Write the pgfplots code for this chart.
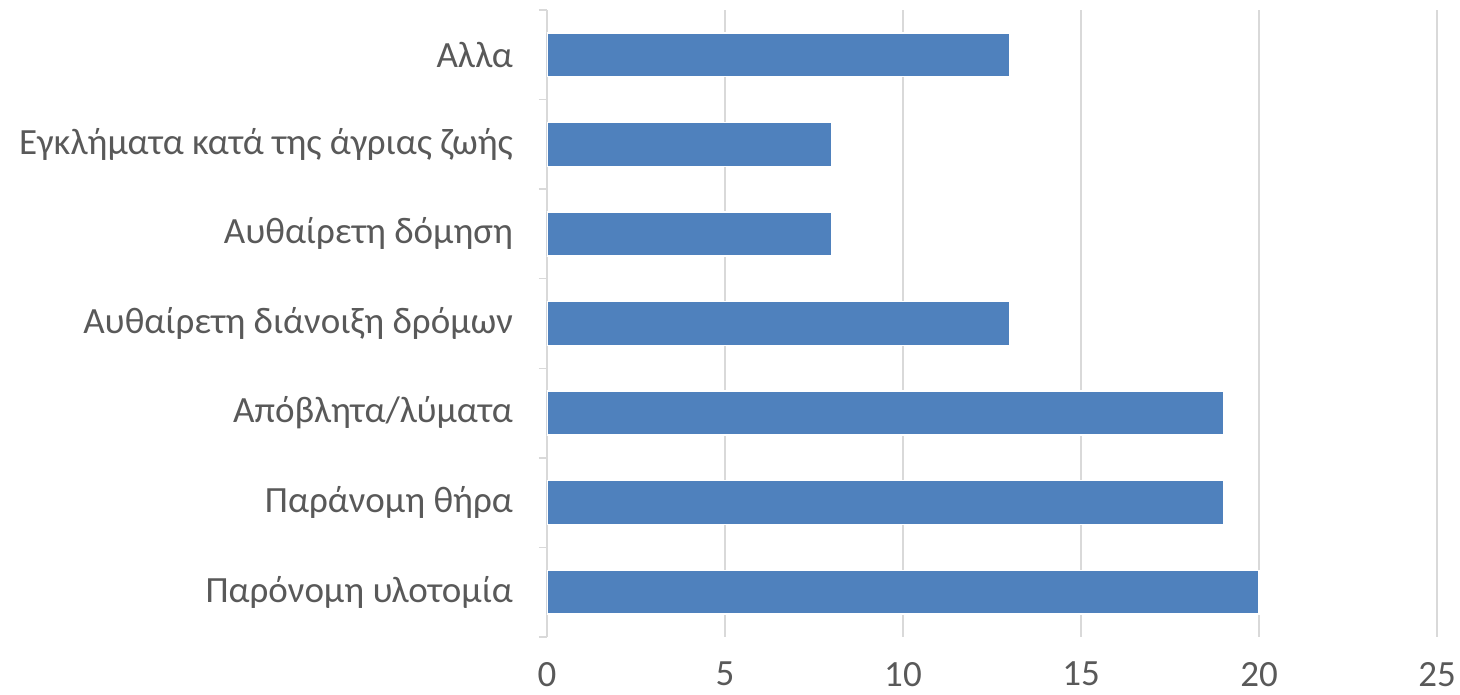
\documentclass[border=0pt]{standalone}
\usepackage{pgfplots}
\pgfplotsset{compat=1.18}
\usepackage{fontspec}
\setmainfont{Carlito}
\definecolor{barblue}{HTML}{4F81BD}
\definecolor{txt}{HTML}{595959}
\definecolor{gridc}{HTML}{D9D9D9}
\begin{document}
\begin{tikzpicture}
\path[use as bounding box] (-273.5pt,-29pt) rectangle (456.5pt,318.5pt);
\begin{axis}[
  at={(0,0)}, anchor=south west,
  scale only axis,
  width=445pt, height=313.5pt,
  xbar, bar width=0.49,
  xmin=0, xmax=25,
  ymin=-0.5, ymax=6.5,
  xtick={0,5,...,25},
  ytick={0,...,6},
  yticklabels={Παρόνομη υλοτομία,Παράνομη θήρα,Απόβλητα/λύματα,Αυθαίρετη διάνοιξη δρόμων,Αυθαίρετη δόμηση,Εγκλήματα κατά της άγριας ζωής,Αλλα},
  minor ytick={-0.5,0.5,...,6.5},
  major tick length=0pt,
  minor tick length=4pt,
  tick align=outside,
  minor tick style={gridc, line width=0.75pt},
  xmajorgrids,
  grid style={gridc, line width=0.75pt},
  axis y line*=left,
  y axis line style={gridc, line width=0.75pt, -},
  axis x line*=bottom,
  x axis line style={draw=none},
  tick label style={font=\fontsize{18.5}{20}\selectfont, text=txt},
  yticklabel style={xshift=-13.5pt},
  xticklabel style={yshift=-9pt},
  /pgf/number format/assume math mode=true,
]
\addplot[fill=barblue, draw=white, line width=0.75pt] coordinates {
(20,0) (19,1) (19,2) (13,3) (8,4) (8,5) (13,6)};
\end{axis}
\end{tikzpicture}
\end{document}
